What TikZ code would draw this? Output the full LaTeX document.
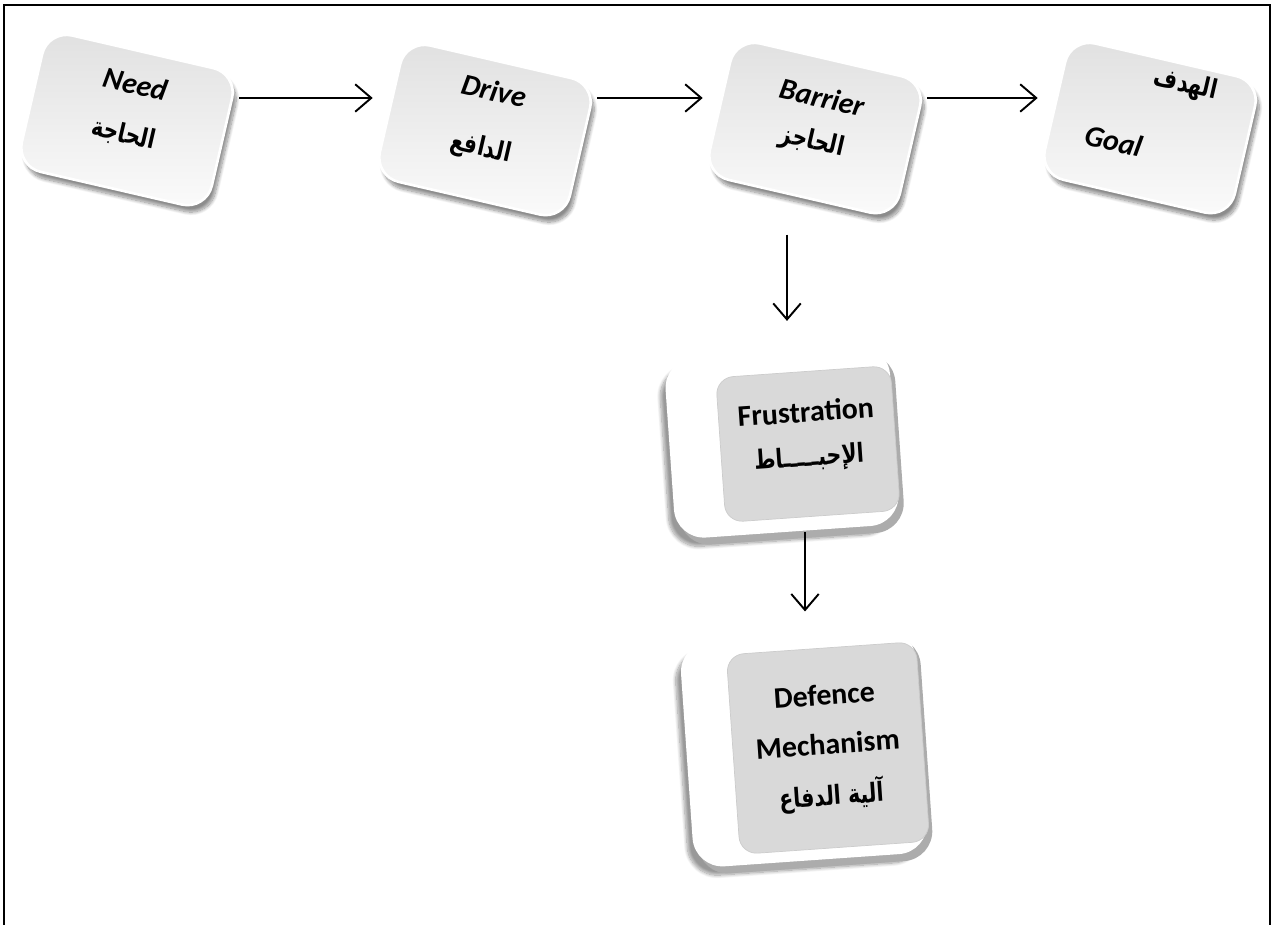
\documentclass[tikz,border=0pt]{standalone}
\usepackage{fontspec}
\setmainfont{Carlito}
\newfontfamily\arabicfont[Script=Arabic, FakeStretch=0.78]{DejaVu Sans}
\TeXXeTstate=1
\usetikzlibrary{positioning, arrows.meta, shadows, shadows.blur}

\newcommand{\ar}[1]{{\upshape\arabicfont\fontsize{15}{18}\selectfont\beginR #1\endR}}

\tikzset{
  flatkey/.style={rounded corners=0.5cm, minimum width=3.9cm, minimum height=2.8cm,
    rotate=-13, draw=white, line width=1.5pt, top color=gray!24, bottom color=gray!3,
    blur shadow={shadow xshift=2pt, shadow yshift=-4pt, shadow blur steps=12, shadow opacity=45},
    align=center, font=\bfseries\itshape\fontsize{17}{20}\selectfont},
  boxkey/.style={rounded corners=0.6cm, fill=white, rotate=4,
    blur shadow={shadow xshift=-3pt, shadow yshift=-5pt, shadow blur steps=12, shadow opacity=40},
    drop shadow={shadow xshift=3pt, shadow yshift=-4pt, fill=gray!65, opacity=1}},
  keyface/.style={rounded corners=0.35cm, fill=gray!30, draw=gray!40, rotate=4,
    align=center, font=\bfseries\fontsize{17}{20}\selectfont},
  arr/.style={-{Straight Barb[length=3.2mm,width=5.5mm]}, line width=1.1pt},
}

\begin{document}
\begin{tikzpicture}[x=0.02cm, y=-0.02cm]
  \useasboundingbox (0,0) rectangle (1272,925);
  % frame, open at the bottom
  \draw[line width=1.2pt] (4,925) -- (4,5) -- (1270,5) -- (1270,925);

  % top row
  \node[flatkey] (need) at (127,120) {Need\\[8pt]\ar{الحاجة}\\[-6pt]};
  \node[flatkey] (drive) at (485,130) {Drive\\[12pt]\ar{الدافع}\\[-6pt]};
  \node[flatkey] (barrier) at (815,128) {Barrier\\[4pt]\ar{الحاجز}\\[-8pt]};
  \node[flatkey] (goal) at (1150,128) {\rule{1cm}{0pt}\ar{الهدف}\\[22pt]Goal\rule{1.3cm}{0pt}\\[-2pt]};

  % lower keys
  \node[boxkey, minimum width=4.5cm, minimum height=3.6cm] (frus) at (782,442) {};
  \node[keyface, minimum width=3.5cm, minimum height=2.9cm] (frusface) at (808,444)
    {Frustration\\[5pt]\ar{الإحبـــــاط}\\[-8pt]};
  \node[boxkey, minimum width=4.7cm, minimum height=4.5cm] (defence) at (804,748) {};
  \node[keyface, minimum width=3.8cm, minimum height=4cm] (defface) at (828,748)
    {Defence\\[8pt]Mechanism\\[9pt]\ar{آلية الدفاع}};

  % connectors
  \coordinate (row) at (0,98);
  \coordinate (colb) at (787,0);
  \coordinate (colf) at (805,0);
  \draw[arr] (need.north east |- row) -- (drive.south west |- row);
  \draw[arr] (drive.north east |- row) -- (barrier.south west |- row);
  \draw[arr] (barrier.north east |- row) -- (goal.south west |- row);
  \draw[arr, shorten <=0.3cm, shorten >=0.62cm] (barrier.south east -| colb) -- (frus.north -| colb);
  \draw[arr, shorten >=0.48cm] (frus.south -| colf) -- (defence.north -| colf);
\end{tikzpicture}
\end{document}
